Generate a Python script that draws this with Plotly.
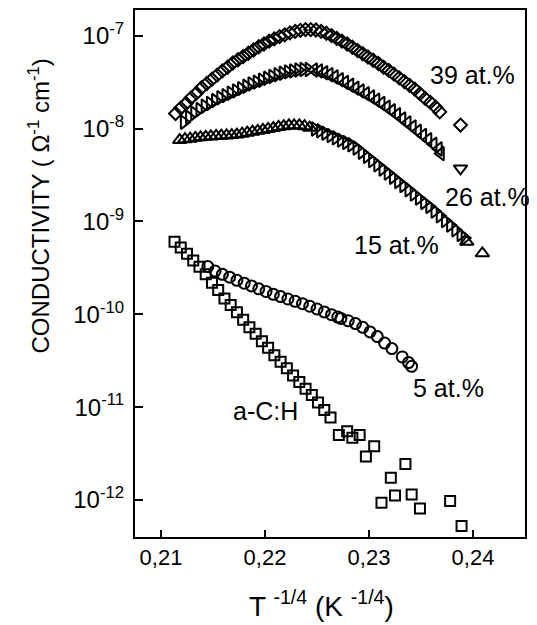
import math
import plotly.graph_objects as go

# ---------------- data ----------------
# 39 at.%  (diamonds)
x39 = [0.2114, 0.2119, 0.2124, 0.2129, 0.2134, 0.2139, 0.2144, 0.2149, 0.2154, 0.2159,
       0.2164, 0.2169, 0.2174, 0.2179, 0.2184, 0.2189, 0.2194, 0.2199, 0.2204, 0.2209,
       0.2214, 0.2219, 0.2224, 0.2229, 0.2234, 0.2239, 0.2244, 0.2249, 0.2254, 0.2259,
       0.2264, 0.2269, 0.2274, 0.2279, 0.2284, 0.2289, 0.2294, 0.2299, 0.2304, 0.2309,
       0.2314, 0.2319, 0.2324, 0.2329, 0.2334, 0.2339, 0.2344, 0.2349, 0.2354, 0.2359,
       0.2364, 0.2368, 0.2388]
y39 = [1.45e-8, 1.66e-8, 1.86e-8, 2.14e-8, 2.40e-8, 2.75e-8, 3.05e-8, 3.39e-8, 3.76e-8, 4.17e-8,
       4.57e-8, 5.07e-8, 5.50e-8, 5.96e-8, 6.46e-8, 7.00e-8, 7.59e-8, 8.13e-8, 8.71e-8, 9.23e-8,
       9.77e-8, 1.02e-7, 1.07e-7, 1.11e-7, 1.14e-7, 1.16e-7, 1.16e-7, 1.15e-7, 1.11e-7, 1.06e-7,
       1.00e-7, 9.33e-8, 8.71e-8, 8.13e-8, 7.50e-8, 6.92e-8, 6.38e-8, 5.89e-8, 5.43e-8, 5.01e-8,
       4.57e-8, 4.22e-8, 3.85e-8, 3.51e-8, 3.20e-8, 2.92e-8, 2.66e-8, 2.37e-8, 2.11e-8, 1.91e-8,
       1.70e-8, 1.51e-8, 1.09e-8]

# 26 at.%  rising part (right triangles), falling part (left triangles), last point (down triangle)
x26_rise = [0.2122, 0.2127, 0.2132, 0.2137, 0.2142, 0.2147, 0.2152, 0.2157, 0.2162, 0.2167,
            0.2172, 0.2177, 0.2182, 0.2187, 0.2192, 0.2197, 0.2202, 0.2207, 0.2212, 0.2217,
            0.2222, 0.2227, 0.2232, 0.2237, 0.2242]
y26_rise = [1.17e-8, 1.32e-8, 1.46e-8, 1.60e-8, 1.74e-8, 1.86e-8, 2.00e-8, 2.14e-8, 2.26e-8, 2.40e-8,
            2.54e-8, 2.69e-8, 2.85e-8, 3.02e-8, 3.16e-8, 3.31e-8, 3.47e-8, 3.63e-8, 3.80e-8, 3.94e-8,
            4.07e-8, 4.17e-8, 4.27e-8, 4.32e-8, 4.32e-8]
x26_fall = [0.2247, 0.2252, 0.2257, 0.2262, 0.2267, 0.2272, 0.2277, 0.2282, 0.2287, 0.2292,
            0.2297, 0.2302, 0.2307, 0.2312, 0.2317, 0.2322, 0.2327, 0.2332, 0.2337, 0.2342,
            0.2347, 0.2352, 0.2357, 0.2362, 0.2367, 0.2369]
y26_fall = [4.27e-8, 4.17e-8, 3.98e-8, 3.80e-8, 3.59e-8, 3.35e-8, 3.13e-8, 2.92e-8, 2.72e-8, 2.54e-8,
            2.37e-8, 2.19e-8, 2.02e-8, 1.86e-8, 1.70e-8, 1.55e-8, 1.41e-8, 1.27e-8, 1.15e-8, 1.04e-8,
            9.33e-9, 8.41e-9, 7.59e-9, 6.76e-9, 6.03e-9, 5.37e-9]
x26_end = [0.2388]
y26_end = [3.72e-9]

# 15 at.%  flat part (up triangles), falling part (right triangles), end points (up triangles)
x15_flat = [0.2118, 0.2123, 0.2128, 0.2133, 0.2138, 0.2143, 0.2148, 0.2153, 0.2158, 0.2163,
            0.2168, 0.2173, 0.2178, 0.2183, 0.2188, 0.2193, 0.2198, 0.2203, 0.2208, 0.2213,
            0.2218, 0.2223, 0.2228, 0.2233, 0.2238, 0.2243]
y15_flat = [7.50e-9, 7.67e-9, 7.76e-9, 7.94e-9, 8.04e-9, 8.13e-9, 8.22e-9, 8.32e-9, 8.36e-9, 8.41e-9,
            8.51e-9, 8.61e-9, 8.81e-9, 9.02e-9, 9.23e-9, 9.44e-9, 9.66e-9, 9.89e-9, 1.01e-8, 1.04e-8,
            1.06e-8, 1.08e-8, 1.08e-8, 1.08e-8, 1.06e-8, 1.02e-8]
x15_fall = [0.2248, 0.2253, 0.2258, 0.2263, 0.2268, 0.2273, 0.2278, 0.2283, 0.2288, 0.2293,
            0.2298, 0.2303, 0.2308, 0.2313, 0.2318, 0.2323, 0.2328, 0.2333, 0.2338, 0.2343,
            0.2348, 0.2353, 0.2358, 0.2363, 0.2368, 0.2373, 0.2378, 0.2383, 0.2388, 0.2392]
y15_fall = [9.89e-9, 9.44e-9, 8.91e-9, 8.41e-9, 7.94e-9, 7.50e-9, 7.08e-9, 6.68e-9, 6.17e-9, 5.56e-9,
            5.01e-9, 4.52e-9, 4.07e-9, 3.67e-9, 3.31e-9, 2.99e-9, 2.69e-9, 2.43e-9, 2.19e-9, 1.97e-9,
            1.78e-9, 1.60e-9, 1.45e-9, 1.29e-9, 1.15e-9, 1.02e-9, 9.12e-10, 8.13e-10, 7.24e-10, 6.61e-10]
x15_end = [0.2394, 0.2409]
y15_end = [6.03e-10, 4.53e-10]

# 5 at.%  (circles)
x5 = [0.2145, 0.2152, 0.2159, 0.2166, 0.2173, 0.2180, 0.2187, 0.2194, 0.2201, 0.2208,
      0.2215, 0.2222, 0.2229, 0.2236, 0.2243, 0.2250, 0.2257, 0.2264, 0.2270, 0.2273,
      0.2280, 0.2287, 0.2294, 0.2301, 0.2308, 0.2315, 0.2322, 0.2332, 0.2338, 0.2341]
y5 = [3.26e-10, 2.92e-10, 2.69e-10, 2.51e-10, 2.32e-10, 2.16e-10, 2.02e-10, 1.88e-10, 1.76e-10, 1.64e-10,
      1.55e-10, 1.46e-10, 1.38e-10, 1.30e-10, 1.22e-10, 1.14e-10, 1.06e-10, 9.89e-11, 9.33e-11, 9.02e-11,
      8.51e-11, 7.94e-11, 7.24e-11, 6.46e-11, 5.75e-11, 4.90e-11, 4.27e-11, 3.47e-11, 3.02e-11, 2.75e-11]

# a-C:H  (squares)
xac = [0.2113, 0.2119, 0.2125, 0.2131, 0.2137, 0.2143, 0.2149, 0.2155, 0.2161, 0.2167,
       0.2173, 0.2179, 0.2185, 0.2191, 0.2197, 0.2203, 0.2209, 0.2215, 0.2221, 0.2227,
       0.2233, 0.2239, 0.2245, 0.2251, 0.2257, 0.2263,
       0.2271, 0.2279, 0.2284, 0.2291, 0.2297, 0.2305, 0.2321, 0.2335, 0.2312, 0.2325,
       0.2341, 0.2349, 0.2378, 0.2389]
yac = [6.03e-10, 5.25e-10, 4.47e-10, 3.80e-10, 3.24e-10, 2.69e-10, 2.19e-10, 1.82e-10, 1.48e-10, 1.26e-10,
       1.05e-10, 8.71e-11, 7.24e-11, 6.17e-11, 5.13e-11, 4.37e-11, 3.63e-11, 3.09e-11, 2.63e-11, 2.19e-11,
       1.86e-11, 1.58e-11, 1.35e-11, 1.12e-11, 9.33e-12, 7.76e-12,
       5.01e-12, 5.50e-12, 4.68e-12, 5.01e-12, 2.95e-12, 3.80e-12, 1.74e-12, 2.45e-12, 9.33e-13, 1.12e-12,
       1.15e-12, 8.13e-13, 9.77e-13, 5.25e-13]

x_tickvals = [0.21, 0.22, 0.23, 0.24]
x_ticktext = ["0,21", "0,22", "0,23", "0,24"]
y_tickvals = [1e-12, 1e-11, 1e-10, 1e-9, 1e-8, 1e-7]
y_ticktext = ["10<sup>-12</sup>", "10<sup>-11</sup>", "10<sup>-10</sup>",
              "10<sup>-9</sup>", "10<sup>-8</sup>", "10<sup>-7</sup>"]

labels = ["39 at.%", "26 at.%", "15 at.%", "5 at.%", "a-C:H"]
label_x = [0.2357, 0.2371, 0.2284, 0.2340, 0.2167]
label_y = [3.8e-8, 1.85e-9, 5.6e-10, 1.6e-11, 9.0e-12]

# ---------------- figure ----------------
# (the page body adds an 8 px offset, so the figure is 8 px smaller than the window)
FONT = "Liberation Sans, Arial, sans-serif"
fig = go.Figure()

def add(x, y, symbol, size):
    fig.add_trace(go.Scatter(
        x=x, y=y, mode="markers", showlegend=False, hoverinfo="skip",
        marker=dict(symbol=symbol, size=size, color="black",
                    line=dict(width=2, color="black"))))

add(xac, yac, "square-open", 10)
add(x5, y5, "circle-open", 11)
add(x15_flat, y15_flat, "triangle-up-open", 12)
add(x15_fall, y15_fall, "triangle-right-open", 12)
add(x15_end, y15_end, "triangle-up-open", 12)
add(x26_rise, y26_rise, "triangle-right-open", 12)
add(x26_fall, y26_fall, "triangle-left-open", 12)
add(x26_end, y26_end, "triangle-down-open", 12)
add(x39, y39, "diamond-open", 10)

for t, lx, ly in zip(labels, label_x, label_y):
    fig.add_annotation(x=lx, y=math.log10(ly), xref="x", yref="y", text=t,
                       showarrow=False, xanchor="left", yanchor="middle",
                       font=dict(family=FONT, size=25, color="black"))

fig.add_annotation(x=-0.245, y=0.628, xref="paper", yref="paper",
                   text="CONDUCTIVITY ( \u03a9<sup>-1</sup> cm<sup>-1</sup>)",
                   textangle=-90, showarrow=False, xanchor="center", yanchor="middle",
                   font=dict(family=FONT, size=24, color="black"))
fig.add_annotation(x=0.478, y=-0.127, xref="paper", yref="paper",
                   text="T <sup>-1/4</sup> (K <sup>-1/4</sup>)",
                   showarrow=False, xanchor="center", yanchor="middle",
                   font=dict(family=FONT, size=28, color="black"))

fig.update_layout(
    width=529, height=617,
    margin=dict(l=127, r=12, t=0, b=88),
    paper_bgcolor="white", plot_bgcolor="white",
    font=dict(family=FONT, size=22, color="black"),
    xaxis=dict(range=[0.2075, 0.2450], tickvals=x_tickvals, ticktext=x_ticktext,
               ticks="inside", ticklen=7, tickwidth=1.5, tickcolor="black",
               tickfont=dict(size=22),
               showline=True, linewidth=2, linecolor="black", mirror=True,
               showgrid=False, zeroline=False),
    yaxis=dict(type="log", range=[-12.398, -6.724], tickvals=y_tickvals, ticktext=y_ticktext,
               ticks="inside", ticklen=8, tickwidth=1.5, tickcolor="black",
               tickfont=dict(size=24), ticklabelstandoff=4,
               showline=True, linewidth=2, linecolor="black", mirror=True,
               showgrid=False, zeroline=False),
)

fig.write_html("out.html")
